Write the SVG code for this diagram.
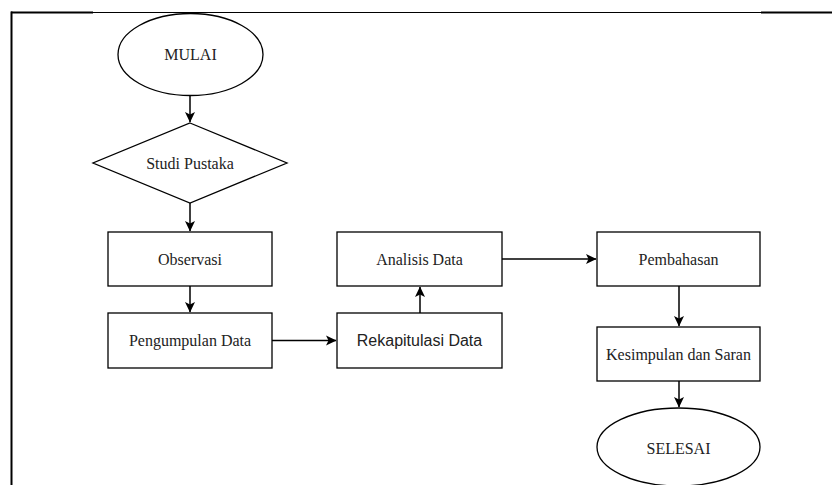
<svg xmlns="http://www.w3.org/2000/svg" width="832" height="485" viewBox="0 0 832 485">
<style>
.shape{fill:#fff;stroke:#000;stroke-width:1.3}
.t{font-family:"Liberation Serif","Times New Roman",serif;font-size:16px;fill:#222;text-anchor:middle;dominant-baseline:central}
.s{font-family:"Liberation Sans",Arial,sans-serif;font-size:16px;fill:#222;text-anchor:middle;dominant-baseline:central}
.c{fill:none;stroke:#000;stroke-width:1.5}
</style>
<defs>
<marker id="ah" markerWidth="12" markerHeight="12" refX="10" refY="6" orient="auto" markerUnits="userSpaceOnUse">
<path d="M0,1 L10.5,6 L0,11 L2.5,6 Z" fill="#000"/>
</marker>
</defs>
<rect width="832" height="485" fill="#fff"/>
<g id="border">
<line x1="11" y1="12.5" x2="93" y2="12.5" stroke="#000" stroke-width="2"/>
<line x1="93" y1="12.5" x2="761" y2="12.5" stroke="#000" stroke-width="1"/>
<line x1="761" y1="12.5" x2="832" y2="12.5" stroke="#000" stroke-width="2"/>
<line x1="11.5" y1="11.5" x2="11.5" y2="485" stroke="#000" stroke-width="2"/>
</g>
<g id="connectors">
<line class="c" x1="190" y1="95" x2="190" y2="122" marker-end="url(#ah)"/>
<line class="c" x1="190" y1="203" x2="190" y2="231" marker-end="url(#ah)"/>
<line class="c" x1="190" y1="286" x2="190" y2="312" marker-end="url(#ah)"/>
<line class="c" x1="272" y1="340.5" x2="336" y2="340.5" marker-end="url(#ah)"/>
<line class="c" x1="420" y1="313" x2="420" y2="287" marker-end="url(#ah)"/>
<line class="c" x1="502" y1="259" x2="596" y2="259" marker-end="url(#ah)"/>
<line class="c" x1="679" y1="286" x2="679" y2="326" marker-end="url(#ah)"/>
<line class="c" x1="679" y1="381" x2="679" y2="407" marker-end="url(#ah)"/>
</g>
<g id="mulai">
<ellipse class="shape" cx="190.5" cy="54.5" rx="72.5" ry="41"/>
<text class="t" x="190.5" y="54">MULAI</text>
</g>
<g id="studi-pustaka">
<polygon class="shape" points="190,123 287,163 190,203 93,163"/>
<text class="t" x="190" y="163">Studi Pustaka</text>
</g>
<g id="observasi">
<rect class="shape" x="108" y="232" width="164" height="54"/>
<text class="t" x="190" y="259">Observasi</text>
</g>
<g id="pengumpulan-data">
<rect class="shape" x="108" y="313" width="164" height="55"/>
<text class="t" x="190" y="340.5">Pengumpulan Data</text>
</g>
<g id="analisis-data">
<rect class="shape" x="337" y="232" width="165" height="54"/>
<text class="t" x="419.5" y="259">Analisis Data</text>
</g>
<g id="rekapitulasi-data">
<rect class="shape" x="337" y="313" width="165" height="55"/>
<text class="s" x="419.5" y="340.5">Rekapitulasi Data</text>
</g>
<g id="pembahasan">
<rect class="shape" x="597" y="232" width="163" height="54"/>
<text class="t" x="678.5" y="259">Pembahasan</text>
</g>
<g id="kesimpulan-saran">
<rect class="shape" x="597" y="327" width="163" height="54"/>
<text class="t" x="678.5" y="354">Kesimpulan dan Saran</text>
</g>
<g id="selesai">
<ellipse class="shape" cx="678.5" cy="447" rx="81.5" ry="39"/>
<text class="t" x="678.5" y="448">SELESAI</text>
</g>
</svg>
